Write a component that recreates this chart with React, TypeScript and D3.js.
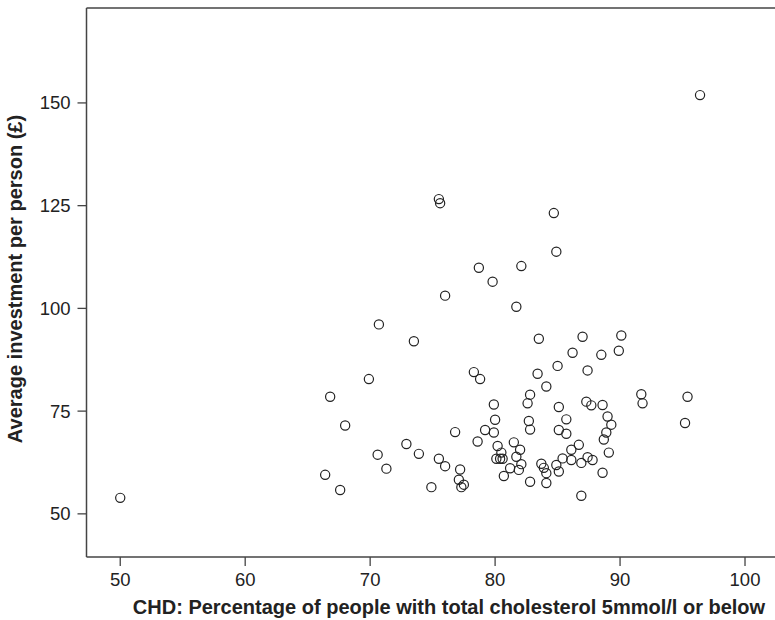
import React from 'react';
import * as d3 from 'd3';

// % of people with total cholesterol <= 5mmol/l
const cholesterolPct = [
  50.0, 96.4, 75.5, 75.6, 84.7, 84.9, 78.7, 82.1, 79.8, 76.0,
  81.7, 70.7, 73.5, 83.5, 87.0, 90.1, 86.2, 88.5, 89.9, 85.0,
  83.4, 87.4, 78.3, 78.8, 69.9, 84.1, 82.8, 82.6, 79.9, 85.1,
  87.3, 87.7, 88.6, 91.7, 91.8, 95.4, 66.8, 80.0, 82.7, 85.7,
  89.0, 89.3, 95.2, 68.0, 79.2, 79.9, 76.8, 82.8, 85.1, 85.7,
  88.9, 88.7, 72.9, 78.6, 81.5, 80.2, 82.0, 86.7, 86.1, 80.5,
  81.7, 89.1, 73.9, 70.6, 80.1, 80.4, 80.6, 85.4, 86.1, 87.4,
  87.8, 75.5, 82.1, 83.7, 84.9, 86.9, 76.0, 71.3, 77.2, 81.2,
  81.9, 83.9, 84.1, 85.1, 88.6, 80.7, 66.4, 77.1, 82.8, 84.1,
  77.5, 77.3, 74.9, 67.6, 86.9,
];

// average investment per person (£)
const investment = [
  53.9, 151.9, 126.6, 125.6, 123.2, 113.8, 109.9, 110.3, 106.5, 103.1,
  100.4, 96.1, 92.0, 92.6, 93.1, 93.4, 89.2, 88.7, 89.7, 86.0,
  84.1, 84.9, 84.5, 82.8, 82.8, 81.0, 79.0, 76.9, 76.6, 76.0,
  77.3, 76.4, 76.5, 79.1, 76.9, 78.5, 78.5, 72.9, 72.6, 73.0,
  73.7, 71.7, 72.1, 71.5, 70.4, 69.8, 69.9, 70.5, 70.4, 69.5,
  69.8, 68.1, 67.0, 67.6, 67.4, 66.5, 65.6, 66.8, 65.6, 64.9,
  63.9, 64.9, 64.6, 64.4, 63.4, 63.4, 63.4, 63.5, 63.1, 63.8,
  63.1, 63.4, 62.1, 62.2, 61.9, 62.4, 61.6, 61.0, 60.8, 61.1,
  60.7, 61.2, 59.9, 60.3, 60.0, 59.2, 59.5, 58.3, 57.8, 57.5,
  57.1, 56.5, 56.5, 55.8, 54.4,
];

const xTicks = [50, 60, 70, 80, 90, 100];
const yTicks = [50, 75, 100, 125, 150];

const width = 775;
const height = 620;
const left = 86.5;
const top = 8;
const bottom = 557;

const font = '"Liberation Sans", Arial, Helvetica, sans-serif';
const ink = '#222';
const axisColor = '#444';

export default function App() {
  const x = d3.scaleLinear().domain([47.3, 102.4]).range([left, width]);
  const y = d3.scaleLinear().domain([39.5, 173.1]).range([bottom, top]);

  const points = cholesterolPct.map((v, i) => ({ px: v, inv: investment[i] }));

  return (
    <svg
      width={width}
      height={height}
      style={{ position: 'absolute', left: 0, top: 0, background: '#fff' }}
      fontFamily={font}
    >
      {/* frame: top, left, bottom */}
      <line x1={left} x2={width} y1={top} y2={top} stroke={axisColor} strokeWidth={1.5} />
      <line x1={left} x2={left} y1={top} y2={bottom} stroke={axisColor} strokeWidth={1.5} />
      <line x1={left} x2={width} y1={bottom} y2={bottom} stroke={axisColor} strokeWidth={1.5} />

      {xTicks.map(t => (
        <g key={'x' + t} transform={`translate(${x(t)},${bottom})`}>
          <line y1={0} y2={9} stroke={axisColor} strokeWidth={1.3} />
          <text y={29} textAnchor="middle" fontSize={18.5} fill={ink}>{t}</text>
        </g>
      ))}

      {yTicks.map(t => (
        <g key={'y' + t} transform={`translate(${left},${y(t)})`}>
          <line x1={0} x2={-9} stroke={axisColor} strokeWidth={1.3} />
          <text x={-16} dy="0.35em" textAnchor="end" fontSize={18.5} fill={ink}>{t}</text>
        </g>
      ))}

      {points.map((d, i) => (
        <circle
          key={i}
          cx={x(d.px)}
          cy={y(d.inv)}
          r={4.6}
          fill="none"
          stroke={ink}
          strokeWidth={1.2}
        />
      ))}

      <text
        x={449}
        y={614}
        textAnchor="middle"
        fontSize={20}
        fontWeight="bold"
        fill={ink}
      >
        CHD: Percentage of people with total cholesterol 5mmol/l or below
      </text>
      <text
        transform="translate(22,279) rotate(-90)"
        textAnchor="middle"
        fontSize={20}
        fontWeight="bold"
        fill={ink}
      >
        Average investment per person (£)
      </text>
    </svg>
  );
}
